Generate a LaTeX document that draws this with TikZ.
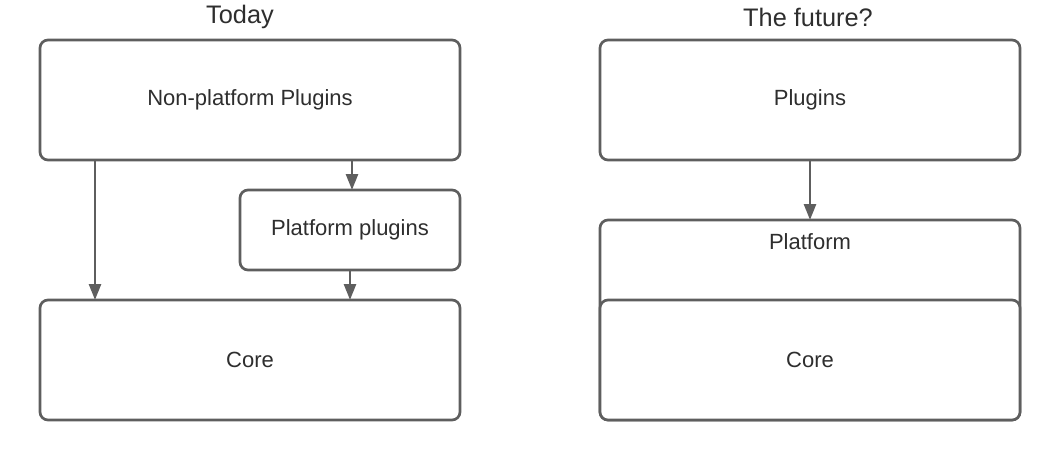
\documentclass[tikz,border=0pt]{standalone}
\usepackage{fontspec}
\setmainfont{Liberation Sans}
\usetikzlibrary{arrows.meta}
\definecolor{edge}{HTML}{5E5E5E}
\definecolor{txt}{HTML}{2E2E2E}
\tikzset{
  box/.style={draw=edge, line width=2pt, rounded corners=6pt, fill=white, outer sep=0pt,
    minimum width=315pt, text=txt, font=\fontsize{16.5}{19}\selectfont, inner sep=0pt},
  arr/.style={draw=edge, line width=2pt, -{Triangle[length=12pt,width=9pt]}},
  ttl/.style={text=txt, font=\fontsize{19}{22}\selectfont, inner sep=0pt}
}
\begin{document}
\begin{tikzpicture}[x=0.75pt,y=-0.75pt]
\useasboundingbox (0,0) rectangle (1060,460);
\node[ttl] (t1) at (240,17) {Today};
\node[ttl] (t2) at (808,17) {The future?};
\node[box, minimum height=90pt] (np) at (250,100) {Non-platform Plugins};
\node[box, minimum width=165pt, minimum height=60pt] (pp) at (350,230) {Platform plugins};
\node[box, minimum height=90pt] (core) at (250,360) {Core};
\node[box, minimum height=90pt] (pl) at (810,100) {Plugins};
\node[box, minimum height=150pt, label={[text=txt, font=\fontsize{16.5}{19}\selectfont, inner sep=0pt, anchor=center, yshift=-16.5pt]north:Platform}] (plat) at (810,320) {};
\node[box, minimum height=90pt] (core2) at (810,360) {Core};
\draw[arr] ([xshift=41.25pt]np.south west) -- ([xshift=41.25pt]core.north west);
\draw[arr] ([xshift=-81pt]np.south east) -- ([xshift=-81pt]pp.north east);
\draw[arr] (pp.south) -- (pp.south |- core.north);
\draw[arr] (pl.south) -- (plat.north);
\end{tikzpicture}
\end{document}
